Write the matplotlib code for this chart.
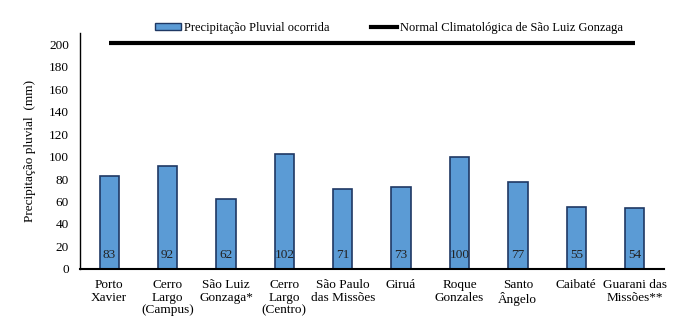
import matplotlib
matplotlib.use("Agg")
import matplotlib.pyplot as plt
from matplotlib.patches import Patch
from matplotlib.lines import Line2D

categories = ["Porto\nXavier", "Cerro\nLargo\n(Campus)", "São Luiz\nGonzaga*", "Cerro\nLargo\n(Centro)",
              "São Paulo\ndas Missões", "Giruá", "Roque\nGonzales", "Santo\nÂngelo", "Caibaté",
              "Guarani das\nMissões**"]
precip = [83, 92, 62, 102, 71, 73, 100, 77, 55, 54]
normal = [201] * len(categories)
yticks = [0, 20, 40, 60, 80, 100, 120, 140, 160, 180, 200]

plt.rcParams['font.family'] = ['Liberation Serif', 'DejaVu Serif']

fig = plt.figure(figsize=(6.98, 3.26), dpi=100)
ax = fig.add_axes([0.1146, 0.175, 0.8365, 0.724])

x = list(range(len(categories)))
ax.bar(x, precip, width=0.33, color="#5B9BD5", edgecolor="#1F3864", linewidth=1.2)
ax.plot(x, normal, color="black", linewidth=3, solid_capstyle="butt")

for xi, v in zip(x, precip):
    ax.text(xi, 12, str(v), ha="center", va="center", fontsize=9.5, color="#222222")

ax.set_xlim(-0.5, len(categories) - 0.5)
ax.set_ylim(0, 210)
ax.set_yticks(yticks)
ax.set_xticks(x)
ax.set_xticklabels(categories, fontsize=9.5, linespacing=1.1)
ax.tick_params(axis="both", length=0, labelsize=9.5)
ax.tick_params(axis="x", pad=7)
ax.tick_params(axis="y", pad=8)
for s in ["top", "right"]:
    ax.spines[s].set_visible(False)
ax.spines["left"].set_color("black")
ax.spines["bottom"].set_color("black")
ax.spines["left"].set_linewidth(1.0)
ax.spines["bottom"].set_linewidth(1.5)

ax.set_ylabel("Precipitação pluvial  (mm)", fontsize=9.5, labelpad=9)

handles = [Patch(facecolor="#5B9BD5", edgecolor="#1F3864", linewidth=1.0),
           Line2D([0], [0], color="black", linewidth=3)]
labels = ["Precipitação Pluvial ocorrida", "Normal Climatológica de São Luiz Gonzaga"]
fig.legend(handles, labels, loc="center", bbox_to_anchor=(0.557, 0.914), ncol=2, frameon=False,
           fontsize=9, handlelength=2.1, handleheight=0.5, handletextpad=0.25, columnspacing=3.3)

fig.savefig("out.png", dpi=100)
